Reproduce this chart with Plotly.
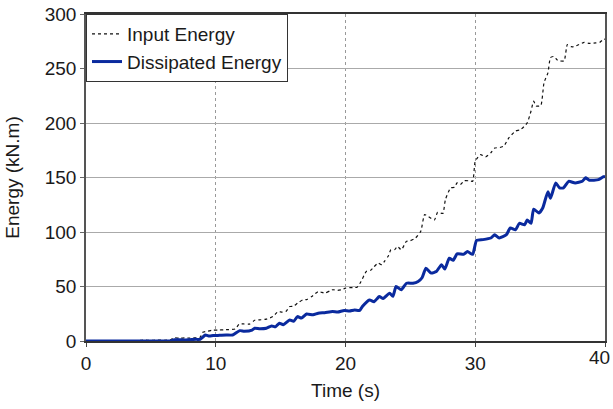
import plotly.graph_objects as go

t_input = [0, 1, 2, 3, 3.5, 4, 4.5, 5, 5.5, 6, 6.5, 6.8, 7.2, 7.6, 8, 8.5, 8.8, 9.0, 9.4, 9.8,
           10.2, 10.6, 11, 11.5, 11.8, 12.2, 12.6, 13.0, 13.5, 13.9, 14.4, 14.8, 15.1, 15.4, 15.7,
           16.0, 16.3, 16.7, 17.0, 17.4, 17.9, 18.4, 18.8, 19.0, 19.4, 19.7, 20, 20.3, 20.6, 20.9,
           21.2, 21.6, 21.95, 22.2, 22.5, 22.8, 23, 23.3, 23.5, 23.8, 24.0, 24.3, 24.7, 25.0, 25.4,
           25.8, 26.1, 26.4, 26.85, 27.1, 27.5, 27.7, 28.1, 28.4, 28.6, 28.85, 29.15, 29.5, 29.8,
           30.0, 30.4, 30.8, 31.2, 31.5, 31.9, 32.2, 32.6, 33.1, 33.5, 34.0, 34.3, 34.5, 34.7, 35.05,
           35.3, 35.6, 35.8, 36.05, 36.3, 36.5, 36.85, 37.1, 37.4, 37.6, 38.0, 38.4, 38.8, 39.3,
           39.6, 39.8, 40]
e_input = [0, 0, 0, 0, 0.3, 0.5, 0.8, 0.6, 0.8, 0.7, 1.0, 3.0, 2.5, 2.8, 2.7, 3.0, 3.5, 8.0, 9.0, 10,
           10, 10.3, 10.5, 11, 15.5, 15.6, 15.5, 19, 19.5, 20, 22.4, 27, 26.5, 27, 31.6,
           32, 34.7, 37.7, 38, 40.8, 45.4, 43.9, 46, 47, 46.5, 47, 48.5, 49, 49, 49.4,
           54.6, 63.8, 65, 68, 71.5, 70, 73, 78, 83.7, 84, 86.8, 83.7, 91.4, 92, 94.5,
           100.6, 116, 114, 111, 118, 117, 129.7, 140.5, 141, 145, 143.5, 147, 147, 146.6,
           165, 171, 169, 172.7, 177, 177.5, 178.8, 186.5, 192.6, 194, 200, 211, 220, 215.6, 216,
           237, 246, 260, 261, 258, 257, 257, 272, 270, 270, 272, 274, 273, 273.5,
           274, 276, 277]

t_diss = [0, 3, 6, 6.6, 6.8, 7.5, 8, 8.5, 8.8, 9.0, 9.2, 9.5, 9.8, 10.3, 10.8, 11.3, 11.85, 12.2,
          12.8, 13.0, 13.4, 13.9, 14.3, 14.6, 14.9, 15.2, 15.7, 16.0, 16.3, 16.6, 17.0, 17.5, 17.9,
          18.4, 19.0, 19.4, 19.9, 20.3, 20.7, 21.1, 21.3, 21.85, 22.2, 22.6, 22.9, 23.4, 23.65, 23.9,
          24.3, 24.7, 25.2, 25.6, 25.9, 26.2, 26.6, 27.0, 27.4, 27.65, 28.0, 28.3, 28.6, 29.1, 29.4,
          29.8, 30.1, 30.6, 31.2, 31.5, 31.85, 32.4, 32.7, 33.1, 33.4, 33.8, 34.0, 34.3, 34.5, 34.9,
          35.2, 35.6, 35.8, 36.2, 36.5, 36.8, 37.2, 37.7, 38.25, 38.5, 38.8, 39.5, 39.85, 40]
e_diss = [0, 0, 0, 0.3, 1.2, 1, 1.2, 1.5, 1.5, 3.5, 5.5, 4.5, 5, 5.2, 5.5, 5.5, 9.5, 9,
          10, 11.7, 11.2, 11.7, 13.8, 13, 16.3, 15, 19.3, 18, 22.4, 21, 24.8, 24, 25.5,
          26, 27, 26.5, 28, 27.5, 28.5, 28, 31.6, 37.7, 36, 40.8, 39, 43.9, 41, 50,
          47, 53, 53, 54.6, 58, 66.8, 62.3, 63.7, 70, 66, 76, 74, 80, 79.5, 82,
          79.5, 92.3, 93, 94.5, 97.5, 94.5, 97.5, 103.7, 102, 108, 106.6, 111, 108, 121, 117.5,
          122, 137, 131, 145, 140.5, 140.5, 146.5, 145, 146.5, 149.7, 147.5, 148, 150.6, 151]

x_ticks = [0, 10, 20, 30, 40]
x_ticktext = ["0", "10", "20", "30", ""]
last_x_label = "40"
y_ticks = [0, 50, 100, 150, 200, 250, 300]

fig = go.Figure()
fig.add_trace(go.Scatter(x=t_input, y=e_input, mode="lines", name="Input Energy",
                         line=dict(color="#111111", width=1.2, dash="dot", shape="spline",
                                   smoothing=0.5)))
fig.add_trace(go.Scatter(x=t_diss, y=e_diss, mode="lines", name="Dissipated Energy",
                         line=dict(color="#0a2a9e", width=3, shape="spline", smoothing=0.5)))

font = dict(family="Liberation Sans, Arial, sans-serif", size=19, color="#1a1a1a")
fig.update_layout(
    width=613, height=409,
    margin=dict(l=86, r=8, t=14, b=68),
    paper_bgcolor="white", plot_bgcolor="white",
    font=font,
    showlegend=True,
    legend=dict(x=0, y=1, xanchor="left", yanchor="top", bgcolor="white",
                bordercolor="#333333", borderwidth=1, font=font, tracegroupgap=0),
)
fig.add_annotation(x=x_ticks[-1], y=0, xref="x", yref="y", text=last_x_label,
                   showarrow=False, xanchor="right", yanchor="top", xshift=7, yshift=-4,
                   font=font)
fig.update_xaxes(range=[0, 40], tickvals=x_ticks, ticktext=x_ticktext, ticks="outside",
                 ticklen=4, tickcolor="#444444", showline=True, linecolor="#333333",
                 linewidth=1.5, mirror=True, showgrid=True, gridcolor="#999999",
                 griddash="dot", gridwidth=1, zeroline=False, automargin=False,
                 title=dict(text="Time (s)", font=font, standoff=11),
                 tickfont=font)
fig.update_yaxes(range=[0, 300], tickvals=y_ticks, ticks="outside", ticklen=4,
                 tickcolor="#666666", showline=True, linecolor="#555555", linewidth=1.5,
                 mirror=True, showgrid=True, gridcolor="#aaaaaa", gridwidth=1,
                 zeroline=False, automargin=False,
                 title=dict(text="Energy (kN.m)", font=font, standoff=20),
                 tickfont=font)

fig.write_html("out.html")
